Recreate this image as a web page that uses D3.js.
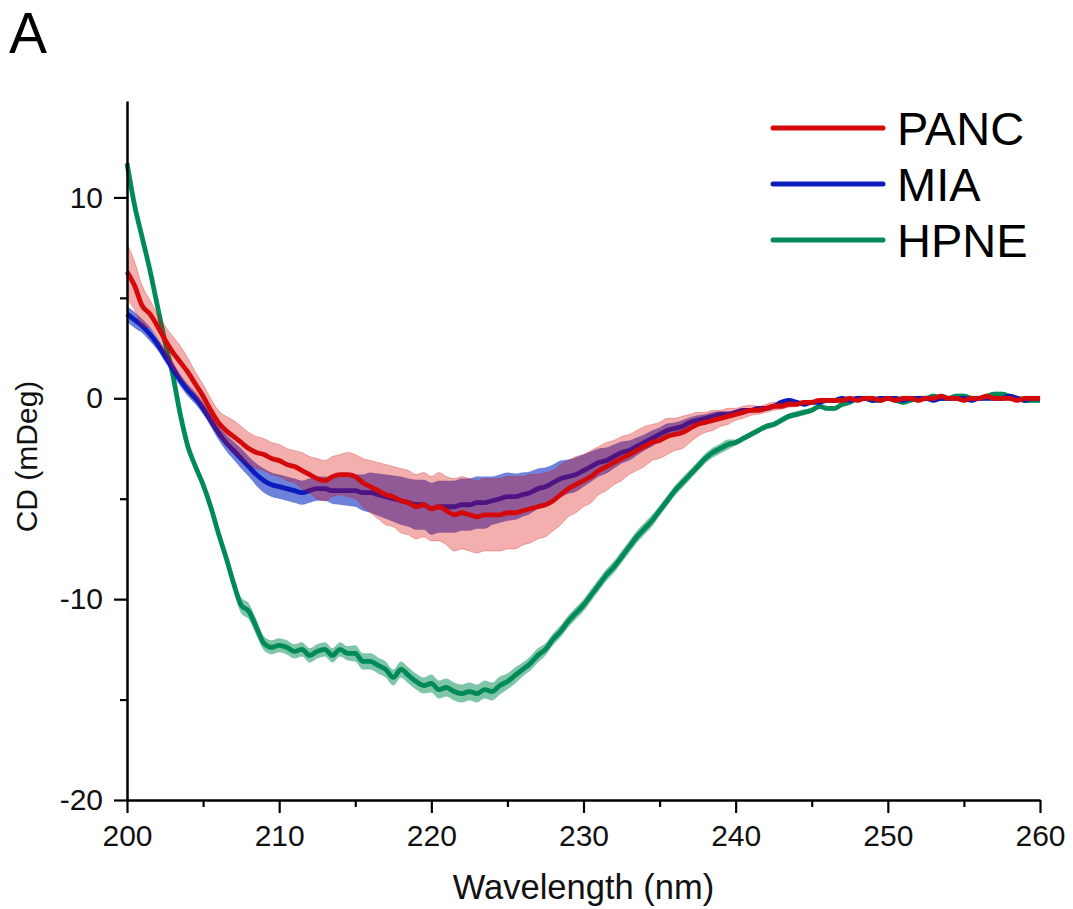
<!DOCTYPE html>
<html>
<head>
<meta charset="utf-8">
<script src="https://cdn.jsdelivr.net/npm/d3@7"></script>
<style>
  body { margin: 0; background: #fff; }
  svg { display: block; font-family: "Liberation Sans", Arial, sans-serif; }
</style>
</head>
<body>
<svg id="chart" width="1073" height="909"></svg>
<script>
var wavelength = [
  200, 200.5, 201, 201.5, 202, 202.5, 203, 203.5, 204, 204.5,
  205, 205.5, 206, 206.5, 207, 207.5, 208, 208.5, 209, 209.5,
  210, 210.5, 211, 211.5, 212, 212.5, 213, 213.5, 214, 214.5,
  215, 215.5, 216, 216.5, 217, 217.5, 218, 218.5, 219, 219.5,
  220, 220.5, 221, 221.5, 222, 222.5, 223, 223.5, 224, 224.5,
  225, 225.5, 226, 226.5, 227, 227.5, 228, 228.5, 229, 229.5,
  230, 230.5, 231, 231.5, 232, 232.5, 233, 233.5, 234, 234.5,
  235, 235.5, 236, 236.5, 237, 237.5, 238, 238.5, 239, 239.5,
  240, 240.5, 241, 241.5, 242, 242.5, 243, 243.5, 244, 244.5,
  245, 245.5, 246, 246.5, 247, 247.5, 248, 248.5, 249, 249.5,
  250, 250.5, 251, 251.5, 252, 252.5, 253, 253.5, 254, 254.5,
  255, 255.5, 256, 256.5, 257, 257.5, 258, 258.5, 259, 259.5,
  260
];

var pancMean = [
  6.3, 5.6, 4.6, 4.2, 3.6, 2.9, 2.3, 1.8, 1.3, 0.7,
  0.1, -0.6, -1.2, -1.6, -1.9, -2.2, -2.5, -2.7, -2.8, -3.0,
  -3.1, -3.3, -3.4, -3.6, -3.8, -4.0, -4.1, -3.9, -3.8, -3.8,
  -3.9, -4.2, -4.4, -4.6, -4.8, -4.9, -5.1, -5.2, -5.4, -5.3,
  -5.5, -5.4, -5.6, -5.8, -5.7, -5.8, -5.9, -5.8, -5.8, -5.8,
  -5.7, -5.7, -5.6, -5.5, -5.4, -5.3, -5.1, -4.8, -4.5, -4.3,
  -4.1, -3.9, -3.6, -3.4, -3.2, -3.0, -2.8, -2.6, -2.4, -2.2,
  -2.1, -1.9, -1.8, -1.7, -1.5, -1.3, -1.2, -1.1, -1.0, -0.9,
  -0.8, -0.7, -0.6, -0.6, -0.5, -0.4, -0.4, -0.3, -0.3, -0.2,
  -0.2, -0.1, -0.1, -0.1, -0.1, 0.0, -0.1, 0.0, 0.0, -0.1,
  0.0, -0.1, 0.0, 0.0, -0.1, 0.0, 0.0, 0.1, 0.0, 0.0,
  -0.1, 0.0, 0.0, 0.1, 0.0, 0.0, 0.0, -0.1, 0.0, 0.0,
  0.0
];
var pancSd = [
  1.4, 1.2, 1.0, 0.7, 0.6, 0.7, 0.8, 0.8, 0.7, 0.6,
  0.6, 0.6, 0.6, 0.7, 0.8, 0.8, 0.8, 0.8, 0.8, 0.8,
  0.8, 0.8, 0.8, 0.9, 0.9, 1.0, 1.0, 1.0, 1.0, 1.1,
  1.1, 1.2, 1.3, 1.4, 1.5, 1.5, 1.6, 1.6, 1.6, 1.6,
  1.6, 1.7, 1.7, 1.8, 1.8, 1.8, 1.8, 1.8, 1.8, 1.8,
  1.8, 1.8, 1.7, 1.7, 1.6, 1.6, 1.5, 1.5, 1.4, 1.4,
  1.3, 1.3, 1.2, 1.2, 1.1, 1.1, 1.0, 1.0, 1.0, 0.9,
  0.9, 0.9, 0.8, 0.8, 0.7, 0.6, 0.5, 0.5, 0.4, 0.4,
  0.3, 0.3, 0.25, 0.2, 0.2, 0.2, 0.15, 0.15, 0.1, 0.1,
  0.1, 0.1, 0.1, 0.1, 0.1, 0.1, 0.1, 0.1, 0.1, 0.1,
  0.1, 0.1, 0.1, 0.1, 0.1, 0.1, 0.1, 0.1, 0.1, 0.1,
  0.1, 0.1, 0.1, 0.1, 0.1, 0.1, 0.1, 0.1, 0.1, 0.1,
  0.1
];

var miaMean = [
  4.2, 3.9, 3.6, 3.2, 2.7, 2.1, 1.5, 0.9, 0.4, 0.0,
  -0.5, -1.1, -1.7, -2.2, -2.6, -3.0, -3.4, -3.8, -4.1, -4.3,
  -4.4, -4.5, -4.6, -4.7, -4.6, -4.5, -4.5, -4.6, -4.6, -4.6,
  -4.6, -4.7, -4.7, -4.8, -4.9, -5.0, -5.1, -5.2, -5.3, -5.3,
  -5.5, -5.4, -5.4, -5.4, -5.3, -5.3, -5.2, -5.2, -5.1, -5.0,
  -4.9, -4.9, -4.8, -4.7, -4.5, -4.4, -4.2, -4.0, -3.9, -3.8,
  -3.6, -3.4, -3.2, -3.1, -2.9, -2.7, -2.6, -2.4, -2.2, -2.0,
  -1.8, -1.6, -1.5, -1.4, -1.2, -1.1, -1.0, -0.9, -0.8, -0.8,
  -0.7, -0.6, -0.6, -0.5, -0.5, -0.4, -0.2, -0.1, -0.2, -0.3,
  -0.2, -0.2, -0.1, -0.1, 0.0, -0.1, 0.0, 0.0, -0.1, 0.0,
  0.0, 0.0, -0.1, 0.0, 0.0, 0.0, -0.1, 0.0, 0.0, 0.0,
  0.0, -0.1, 0.0, 0.0, 0.0, 0.0, 0.1, 0.0, -0.1, 0.0,
  0.0
];
var miaSd = [
  0.4, 0.4, 0.35, 0.35, 0.3, 0.3, 0.3, 0.3, 0.3, 0.3,
  0.3, 0.3, 0.35, 0.4, 0.45, 0.5, 0.5, 0.55, 0.6, 0.6,
  0.6, 0.6, 0.6, 0.6, 0.6, 0.6, 0.6, 0.65, 0.7, 0.75,
  0.8, 0.9, 1.0, 1.05, 1.1, 1.15, 1.2, 1.2, 1.25, 1.25,
  1.3, 1.3, 1.3, 1.3, 1.3, 1.3, 1.3, 1.3, 1.2, 1.2,
  1.2, 1.15, 1.1, 1.05, 1.0, 0.95, 0.9, 0.9, 0.85, 0.85,
  0.8, 0.75, 0.7, 0.65, 0.6, 0.55, 0.5, 0.45, 0.4, 0.4,
  0.35, 0.35, 0.3, 0.3, 0.25, 0.25, 0.2, 0.2, 0.15, 0.15,
  0.1, 0.1, 0.1, 0.1, 0.1, 0.1, 0.1, 0.1, 0.1, 0.1,
  0.1, 0.1, 0.1, 0.1, 0.1, 0.1, 0.1, 0.1, 0.1, 0.1,
  0.1, 0.1, 0.1, 0.1, 0.1, 0.1, 0.1, 0.1, 0.1, 0.1,
  0.1, 0.1, 0.1, 0.1, 0.1, 0.1, 0.1, 0.1, 0.1, 0.1,
  0.1
];

var hpneMean = [
  11.7, 9.6, 8.0, 6.4, 4.6, 2.8, 1.2, -0.8, -2.4, -3.4,
  -4.3, -5.4, -6.7, -7.9, -9.2, -10.3, -10.6, -11.4, -12.2, -12.4,
  -12.3, -12.4, -12.6, -12.5, -12.8, -12.6, -12.5, -12.8, -12.5, -12.7,
  -12.7, -13.1, -13.1, -13.3, -13.5, -13.9, -13.5, -13.8, -14.1, -14.3,
  -14.2, -14.5, -14.4, -14.6, -14.7, -14.6, -14.7, -14.5, -14.6, -14.3,
  -14.1, -13.8, -13.5, -13.2, -12.8, -12.5, -12.0, -11.6, -11.1, -10.7,
  -10.3, -9.8, -9.3, -8.8, -8.4, -7.9, -7.4, -6.9, -6.5, -6.1,
  -5.6, -5.1, -4.6, -4.2, -3.8, -3.4, -3.0, -2.7, -2.5, -2.3,
  -2.2, -2.0, -1.8, -1.6, -1.4, -1.3, -1.1, -0.9, -0.8, -0.7,
  -0.6, -0.4, -0.5, -0.5, -0.3, -0.2, 0.0, 0.0, -0.1, -0.1,
  0.0, -0.1, -0.2, -0.1, 0.0, 0.0, 0.1, 0.0, 0.0, 0.1,
  0.1, 0.0, 0.0, 0.1, 0.2, 0.2, 0.1, 0.0, -0.1, -0.1,
  -0.1
];
var hpneSd = [
  0.2, 0.2, 0.2, 0.2, 0.2, 0.2, 0.2, 0.2, 0.2, 0.2,
  0.25, 0.25, 0.3, 0.3, 0.35, 0.4, 0.4, 0.4, 0.35, 0.35,
  0.35, 0.35, 0.35, 0.35, 0.35, 0.35, 0.35, 0.35, 0.35, 0.35,
  0.4, 0.4, 0.4, 0.4, 0.4, 0.4, 0.4, 0.4, 0.4, 0.4,
  0.45, 0.45, 0.45, 0.45, 0.45, 0.45, 0.45, 0.45, 0.45, 0.45,
  0.4, 0.4, 0.35, 0.35, 0.35, 0.3, 0.3, 0.3, 0.3, 0.3,
  0.3, 0.3, 0.3, 0.3, 0.3, 0.3, 0.3, 0.3, 0.3, 0.3,
  0.25, 0.25, 0.25, 0.25, 0.25, 0.25, 0.25, 0.25, 0.25, 0.25,
  0.15, 0.15, 0.15, 0.15, 0.15, 0.15, 0.15, 0.15, 0.15, 0.15,
  0.12, 0.12, 0.12, 0.12, 0.12, 0.12, 0.12, 0.12, 0.12, 0.12,
  0.12, 0.12, 0.12, 0.12, 0.12, 0.12, 0.12, 0.12, 0.12, 0.12,
  0.12, 0.12, 0.12, 0.12, 0.12, 0.12, 0.12, 0.12, 0.12, 0.12,
  0.12
];

var seriesNames = ["PANC", "MIA", "HPNE"];
var xMajorTicks = [200, 210, 220, 230, 240, 250, 260];
var xMinorTicks = [205, 215, 225, 235, 245, 255];
var yMajorTicks = [-20, -10, 0, 10];
var yMinorTicks = [-15, -5, 5];

var lineColors = {PANC: "#d40a0a", MIA: "#0a1cbe", HPNE: "#008a58"},
  bandColors = {PANC: "#dc0a0a", MIA: "#0024c2", HPNE: "#008c55"},
  bandOpacity = {PANC: 0.33, MIA: 0.57, HPNE: 0.5};

var svg = d3.select("#chart"),
  margin = {top: 101, right: 33, bottom: 109, left: 127},
  width = 1073 - margin.left - margin.right,
  height = 909 - margin.top - margin.bottom;

var x = d3.scaleLinear().domain([200, 260]).range([0, width]);
var y = d3.scaleLinear().domain([-20, 14.8]).range([height, 0]);

var g = svg.append("g")
  .attr("transform", "translate(" + margin.left + "," + margin.top + ")");

function rows(mean, sd) {
  return wavelength.map(function(w, i) { return {w: w, m: mean[i], s: sd[i]}; });
}

var data = {
  PANC: rows(pancMean, pancSd),
  MIA: rows(miaMean, miaSd),
  HPNE: rows(hpneMean, hpneSd)
};

var area = d3.area()
  .curve(d3.curveMonotoneX)
  .x(function(d) { return x(d.w); })
  .y0(function(d) { return y(d.m - d.s); })
  .y1(function(d) { return y(d.m + d.s); });

var line = d3.line()
  .curve(d3.curveMonotoneX)
  .x(function(d) { return x(d.w); })
  .y(function(d) { return y(d.m); });

// draw bottom to top: HPNE, MIA, PANC (PANC band tints the others)
["HPNE", "MIA", "PANC"].forEach(function(name) {
  g.append("path")
    .datum(data[name])
    .attr("d", area)
    .attr("fill", bandColors[name])
    .attr("fill-opacity", bandOpacity[name])
    .attr("stroke", bandColors[name])
    .attr("stroke-opacity", name == "PANC" ? 0.35 : 0)
    .attr("stroke-width", 0.8);

  g.append("path")
    .datum(data[name])
    .attr("d", line)
    .attr("fill", "none")
    .attr("stroke", lineColors[name])
    .attr("stroke-width", 4.8)
    .attr("stroke-linejoin", "round");
});

// plain hyphen for negatives, like the original
var fmt = function(d) { return String(d); };

// axes
g.append("g")
  .attr("transform", "translate(0," + height + ")")
  .call(d3.axisBottom(x).tickValues(xMajorTicks).tickFormat(fmt)
    .tickSize(13).tickSizeOuter(0).tickPadding(12));

g.append("g")
  .attr("transform", "translate(0," + height + ")")
  .call(d3.axisBottom(x).tickValues(xMinorTicks).tickSize(7).tickFormat(""))
  .select(".domain").remove();

g.append("g")
  .call(d3.axisLeft(y).tickValues(yMajorTicks).tickFormat(fmt)
    .tickSize(13).tickSizeOuter(0).tickPadding(11));

g.append("g")
  .call(d3.axisLeft(y).tickValues(yMinorTicks).tickSize(7).tickFormat(""))
  .select(".domain").remove();

g.selectAll(".domain").attr("stroke", "#000").attr("stroke-width", 2.5);
g.selectAll(".tick line").attr("stroke", "#000").attr("stroke-width", 2.2);
g.selectAll(".tick text")
  .attr("fill", "#111")
  .style("font-family", "'Liberation Sans', Arial, sans-serif")
  .style("font-size", "30px");

// axis titles
svg.append("text")
  .attr("x", margin.left + width / 2)
  .attr("y", 899)
  .attr("text-anchor", "middle")
  .style("font-size", "34.5px")
  .attr("fill", "#111")
  .text("Wavelength (nm)");

svg.append("text")
  .attr("transform", "translate(37," + (margin.top + height / 2 + 6) + ") rotate(-90)")
  .attr("text-anchor", "middle")
  .style("font-size", "30px")
  .attr("fill", "#111")
  .text("CD (mDeg)");

// panel letter
svg.append("text")
  .attr("x", 9)
  .attr("y", 53)
  .style("font-size", "57px")
  .attr("fill", "#000")
  .text("A");

// legend
var legend = svg.append("g")
  .selectAll("g")
  .data(seriesNames)
  .enter().append("g")
    .attr("transform", function(d, i) { return "translate(773," + (128 + i * 56) + ")"; });

legend.append("line")
  .attr("x1", 0)
  .attr("x2", 110)
  .attr("stroke", function(d) { return lineColors[d]; })
  .attr("stroke-width", 5)
  .attr("stroke-linecap", "round");

legend.append("text")
  .attr("x", 124)
  .attr("y", 17)
  .style("font-size", "47px")
  .attr("fill", "#000")
  .text(function(d) { return d; });
</script>
</body>
</html>
